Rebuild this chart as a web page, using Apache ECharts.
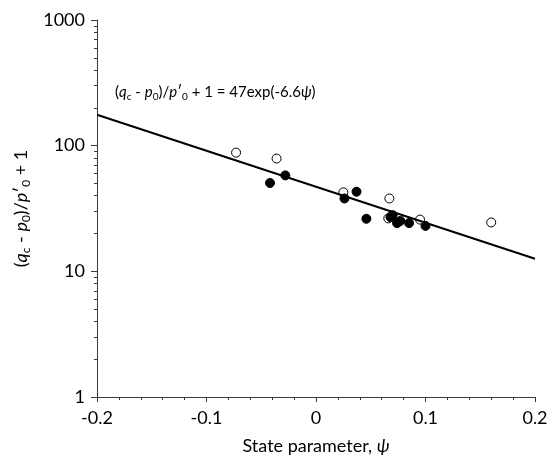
<!DOCTYPE html>
<html>
<head>
<meta charset="utf-8">
<script src="https://cdn.jsdelivr.net/npm/echarts@6/dist/echarts.min.js"></script>
<style>html,body{margin:0;padding:0;background:#fff;}#c{width:554px;height:461px;}</style>
</head>
<body>
<div id="c"></div>
<script>
// Open circles
var openX = [-0.073, -0.036, 0.025, 0.067, 0.066, 0.095, 0.160];
var openY = [88, 79, 42.5, 38, 26.4, 25.8, 24.5];
// Filled circles
var filledX = [-0.042, -0.028, 0.026, 0.037, 0.046, 0.070, 0.068, 0.074, 0.077, 0.085, 0.100];
var filledY = [50.5, 58, 38, 43, 26.2, 28, 27, 24.2, 25.2, 24.2, 23];
// Fitted line end points
var fitX = [-0.2, 0.2];
var fitY = [176, 12.6];
// Axis ticks
var xTicks = [-0.2, -0.1, 0, 0.1, 0.2];
var yTickLabels = [1, 10, 100, 1000];
var yMinorTicks = [2,3,4,5,6,7,8,9,20,30,40,50,60,70,80,90,200,300,400,500,600,700,800,900];

function zip(a, b) { return a.map(function (v, i) { return [v, b[i]]; }); }

var FONT = 'Lato';
var AX = '#3a3a3a';

var chart = echarts.init(document.getElementById('c'));
chart.setOption({
  animation: false,
  backgroundColor: '#fff',
  grid: { left: 97, right: 19, top: 20, bottom: 64 },
  xAxis: {
    type: 'value', min: xTicks[0], max: xTicks[xTicks.length - 1], interval: 0.1,
    axisLine: { onZero: false, lineStyle: { color: AX, width: 1 } },
    axisTick: { show: true, length: 5, lineStyle: { color: AX } },
    minorTick: { show: true, splitNumber: 5, length: 3, lineStyle: { color: AX } },
    splitLine: { show: false },
    axisLabel: { color: '#000', fontFamily: FONT, fontSize: 18, margin: 12 },
    name: 'State parameter, {i|ψ}',
    nameLocation: 'middle', nameGap: 40,
    nameTextStyle: { color: '#000', fontFamily: FONT, fontSize: 18,
      rich: { i: { fontStyle: 'italic', fontFamily: FONT, fontSize: 18, color: '#000' } } }
  },
  yAxis: [{
    type: 'log', logBase: 10, min: 1, max: 1000, position: 'left',
    axisLine: { show: true, onZero: false, lineStyle: { color: AX, width: 1 } },
    axisTick: { show: true, length: 6, lineStyle: { color: AX } },
    splitLine: { show: false },
    axisLabel: { color: '#000', fontFamily: FONT, fontSize: 18, margin: 12,
      customValues: yTickLabels, formatter: function (v) { return String(v); } },
    name: '({i|q}{s|c} - {i|p}{s|0})/{i|p}′{s|0} + 1',
    nameLocation: 'middle', nameGap: 62, nameRotate: 90,
    nameTextStyle: { color: '#000', fontFamily: FONT, fontSize: 18, lineHeight: 22,
      rich: {
        i: { fontStyle: 'italic', fontFamily: FONT, fontSize: 18, lineHeight: 22, color: '#000' },
        s: { fontFamily: FONT, fontSize: 12, lineHeight: 14, verticalAlign: 'bottom', color: '#000' }
      } }
  }, {
    type: 'log', logBase: 10, min: 1, max: 1000, position: 'left', offset: 0,
    axisLine: { show: false, onZero: false },
    axisTick: { show: true, length: 3, customValues: yMinorTicks, lineStyle: { color: AX } },
    axisLabel: { show: false },
    splitLine: { show: false }
  }],
  graphic: [{
    type: 'text', left: 115, top: 83,
    style: {
      text: '({i|q}{s|c} - {i|p}{s|0})/{i|p}′{s|0} + 1 = 47exp(-6.6{i|ψ})',
      fill: '#000', fontFamily: FONT, fontSize: 15, lineHeight: 19,
      rich: {
        i: { fontStyle: 'italic', fontFamily: FONT, fontSize: 15, lineHeight: 19, fill: '#000' },
        s: { fontFamily: FONT, fontSize: 10, lineHeight: 12, verticalAlign: 'bottom', fill: '#000' }
      }
    }
  }],
  series: [{
    type: 'scatter', data: zip(openX, openY), symbol: 'circle', symbolSize: 9,
    itemStyle: { color: '#fff', borderColor: '#000', borderWidth: 1, opacity: 1 }, z: 2
  }, {
    type: 'scatter', data: zip(filledX, filledY), symbol: 'circle', symbolSize: 9,
    itemStyle: { color: '#000', borderColor: '#000', borderWidth: 1, opacity: 1 }, z: 2
  }, {
    type: 'line', data: zip(fitX, fitY), symbol: 'none',
    lineStyle: { color: '#000', width: 2 }, z: 3
  }]
});
</script>
</body>
</html>
